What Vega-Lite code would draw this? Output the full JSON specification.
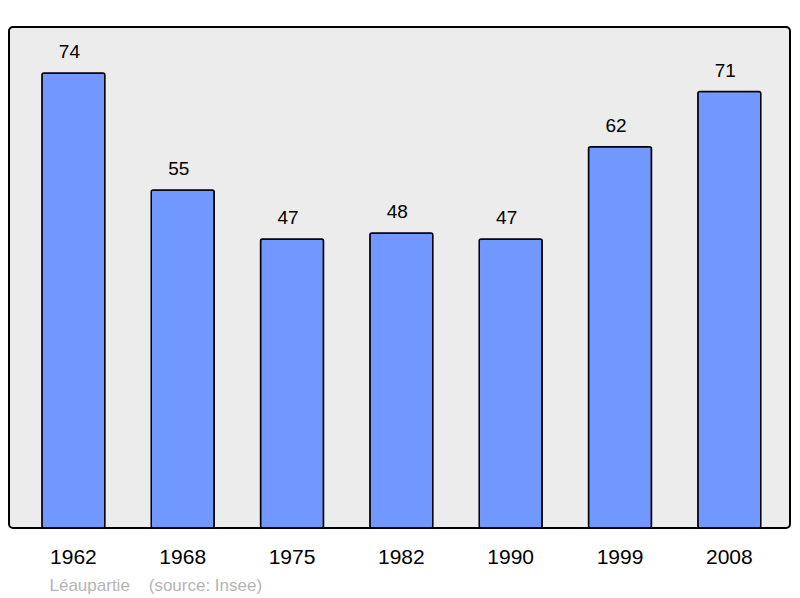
{
  "$schema": "https://vega.github.io/schema/vega-lite/v6.json",
  "width": 781,
  "height": 501,
  "autosize": "none",
  "padding": {"left": 9, "top": 27, "right": 10, "bottom": 70},
  "background": "#ffffff",
  "config": {
    "view": {"fill": "#ececec", "stroke": "#000000", "strokeWidth": 2, "cornerRadius": 4},
    "font": "Liberation Sans"
  },
  "data": {
    "values": [
      {"year": "1962", "pop": 74},
      {"year": "1968", "pop": 55},
      {"year": "1975", "pop": 47},
      {"year": "1982", "pop": 48},
      {"year": "1990", "pop": 47},
      {"year": "1999", "pop": 62},
      {"year": "2008", "pop": 71}
    ]
  },
  "encoding": {
    "x": {
      "field": "year",
      "type": "nominal",
      "sort": null,
      "scale": {"paddingInner": 0.424, "paddingOuter": 0.284, "align": 0.53},
      "axis": {
        "domain": false,
        "ticks": false,
        "labelAngle": 0,
        "labelFontSize": 21,
        "labelColor": "#000000",
        "labelPadding": 18,
        "title": "Léaupartie\u00a0\u00a0\u00a0\u00a0(source: Insee)",
        "titleFontSize": 17,
        "titleFontWeight": "normal",
        "titleColor": "#b4b4b4",
        "titleAnchor": "start",
        "titleAlign": "left",
        "titleBaseline": "alphabetic",
        "titleX": 40,
        "titleY": 62
      }
    },
    "y": {
      "field": "pop",
      "type": "quantitative",
      "scale": {"domain": [0, 81.5], "nice": false},
      "axis": null
    }
  },
  "layer": [
    {
      "mark": {"type": "bar", "fill": "#7098ff", "stroke": "#000000", "strokeWidth": 1.5, "cornerRadius": 2}
    },
    {
      "mark": {"type": "text", "baseline": "alphabetic", "dy": -15, "dx": -4, "fontSize": 19, "color": "#000000"},
      "encoding": {"text": {"field": "pop", "type": "quantitative"}}
    }
  ]
}
